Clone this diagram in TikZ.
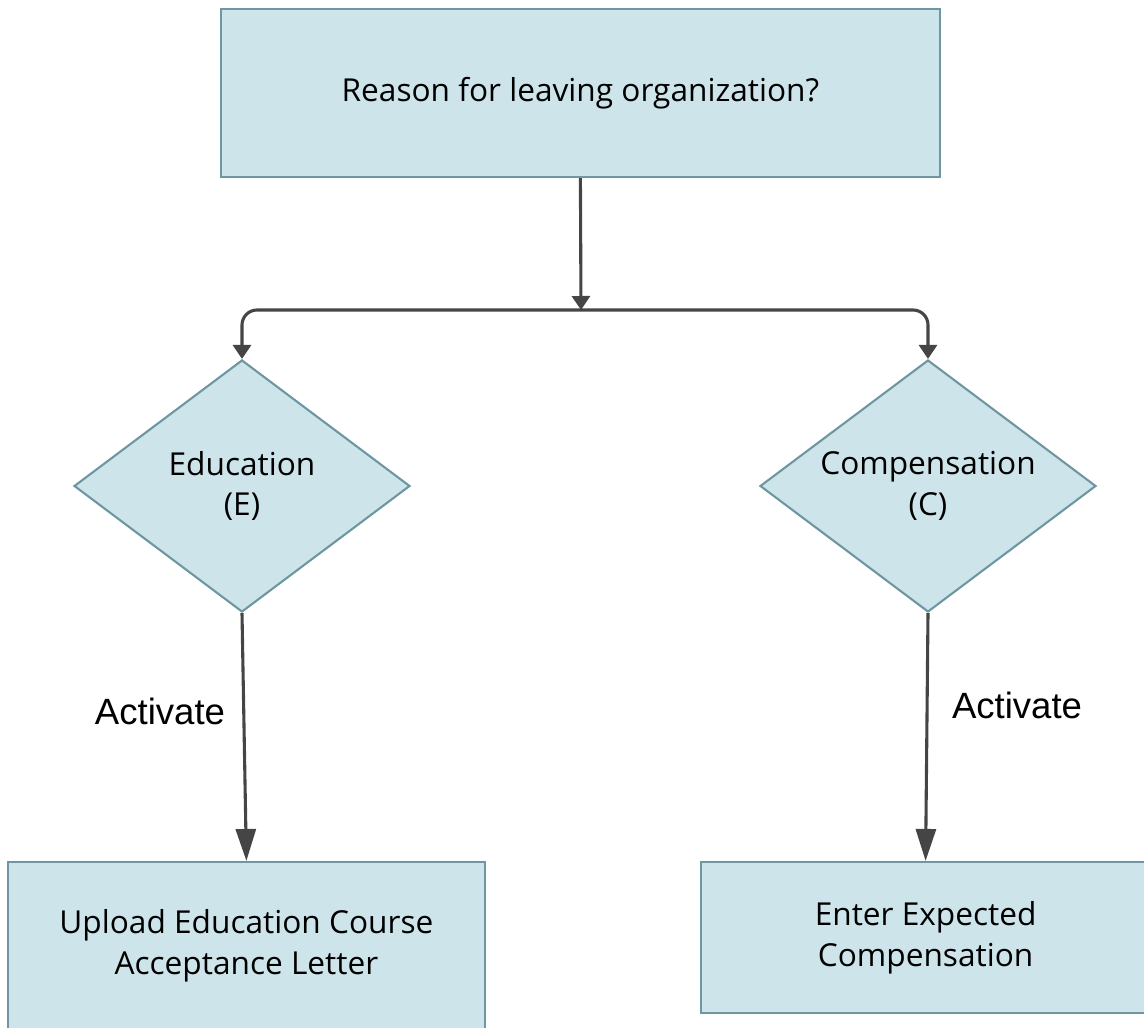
\documentclass[tikz,border=0pt]{standalone}
\usepackage{fontspec}
\setmainfont{Open Sans}
\newfontfamily\labelfont{Liberation Sans}
\usetikzlibrary{shapes.geometric,arrows.meta}
\definecolor{boxfill}{HTML}{CDE4EA}
\definecolor{boxline}{HTML}{6E97A1}
\definecolor{flowgray}{HTML}{454545}
\tikzset{
    stepbox/.style={draw=boxline, fill=boxfill, line width=1.5pt, align=center,
        font=\fontsize{22.5}{29}\selectfont},
    choice/.style={shape=diamond, draw=boxline, fill=boxfill, line width=1.5pt,
        align=center, inner sep=0pt, aspect=1.33, minimum width=8.4cm,
        minimum height=6.3cm, font=\fontsize{22.5}{29}\selectfont},
    flow/.style={draw=flowgray, line width=2.2pt},
    smalltip/.style={-{Triangle[length=0.35cm, width=0.45cm]}},
    bigtip/.style={-{Triangle[length=0.8cm, width=0.5cm]}},
    activate/.style={font=\labelfont\fontsize{26}{30}\selectfont}
}
\begin{document}
\begin{tikzpicture}
    \clip (0,0) rectangle (28.6,25.675);
    \useasboundingbox (0,0) rectangle (28.6,25.675);
    \node[stepbox, minimum width=17.975cm, minimum height=4.2cm] (reason) at (14.51,23.35) {Reason for leaving organization?};
    \node[choice] (edu) at (6.05,13.525) {Education\\(E)};
    \node[choice] (comp) at (23.2,13.525) {Compensation\\(C)};
    \node[stepbox, minimum width=11.925cm, minimum height=4.2cm] (upload) at (6.16,2.025) {Upload Education Course\\Acceptance Letter};
    \node[stepbox, minimum width=11.225cm, minimum height=3.775cm] (expect) at (23.14,2.2375) {Enter Expected\\Compensation};
    \coordinate (split) at (14.525,17.925);
    \draw[flow, smalltip] (reason.south) -- (split);
    \draw[flow, smalltip, rounded corners=0.375cm] (split) -| (edu.north);
    \draw[flow, smalltip, rounded corners=0.375cm] (split) -| (comp.north);
    \draw[flow, bigtip] (edu.south) -- (upload.north);
    \draw[flow, bigtip] (comp.south) -- (expect.north);
    \node[activate] (eduact) at (4.0,7.9) {Activate};
    \node[activate] (compact) at (25.425,8.05) {Activate};
\end{tikzpicture}
\end{document}
